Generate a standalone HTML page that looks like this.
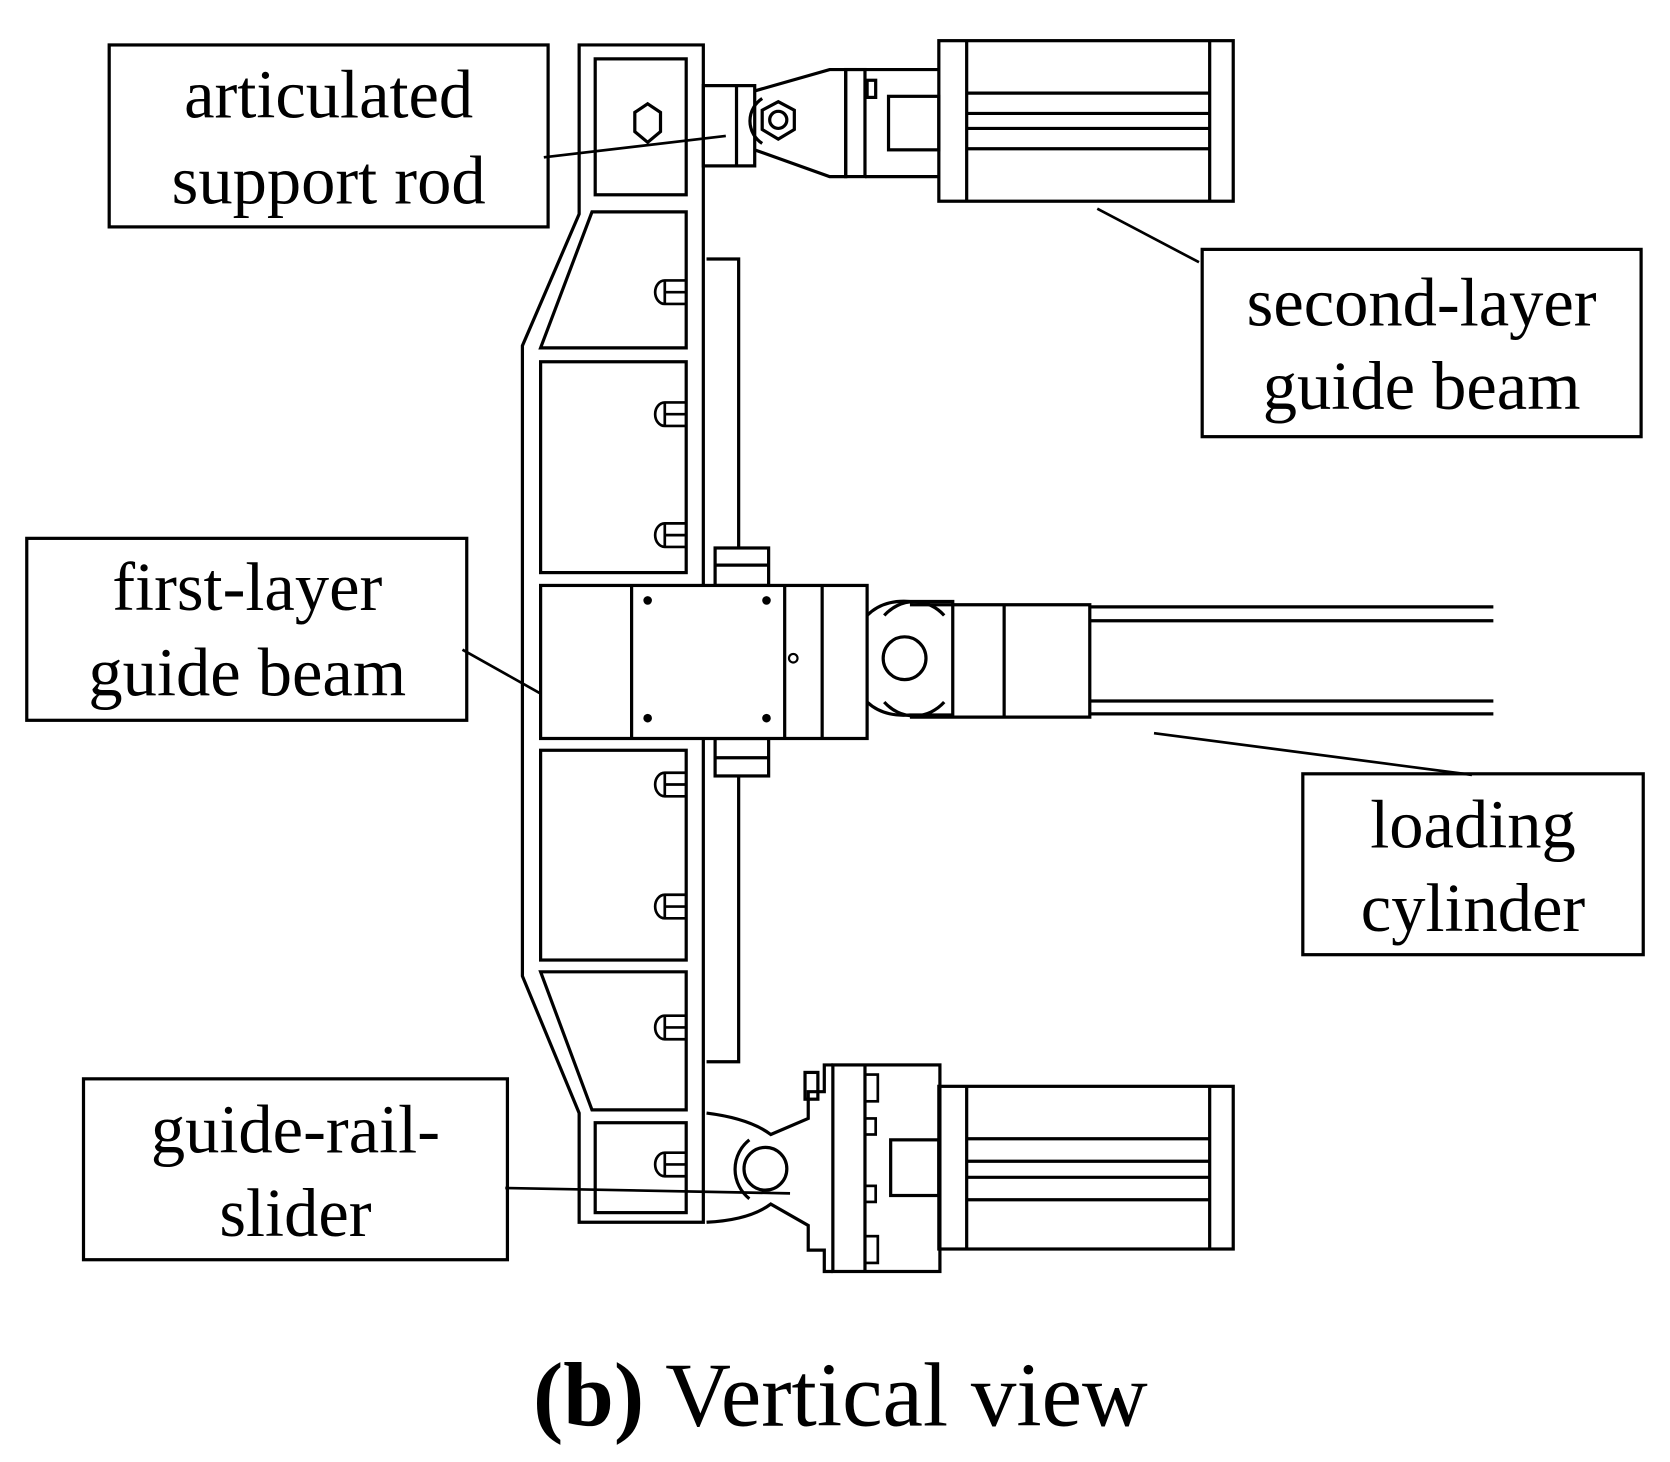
<!DOCTYPE html>
<html><head><style>html,body{margin:0;padding:0;background:#fff}svg{display:block}</style></head>
<body>
<svg width="1670" height="1462" viewBox="0 0 1560 1366" xmlns="http://www.w3.org/2000/svg" preserveAspectRatio="none">
<g fill="none" stroke="#000" stroke-width="3">
<!-- label boxes -->
<rect x="102" y="42" width="410" height="170"/>
<rect x="1123" y="233" width="410" height="175"/>
<rect x="25" y="503" width="411" height="170"/>
<rect x="1217" y="723" width="318" height="169"/>
<rect x="78" y="1008" width="396" height="169"/>
<!-- leaders -->
<g stroke-width="2.5">
<line x1="508" y1="147" x2="678" y2="127"/>
<line x1="1120" y1="245" x2="1025" y2="195"/>
<line x1="432" y1="607" x2="512" y2="652"/>
<line x1="1375" y1="724" x2="1078" y2="685"/>
</g>
<!-- frame outline -->
<path d="M541 42 H657 V1142 H541 V1040 L488 912 V323 L541 200 Z"/>
<rect x="556" y="55" width="85" height="127"/>
<path d="M605 97 l12 8 v18 l-12 10 l-12 -10 v-18 z"/>
<path d="M553 198 H641 V325 H505 Z"/>
<rect x="505" y="338" width="136" height="197"/>
<rect x="505" y="701" width="136" height="196"/>
<path d="M505 908 H641 V1037 H553 Z"/>
<rect x="556" y="1049" width="85" height="84"/>
<!-- bolts -->
<g stroke-width="2.5">
<path d="M641 262 h-20 a9 11 0 0 0 0 22 h20 M621 262 v22 M621 273 h20"/>
<path d="M641 376 h-20 a9 11 0 0 0 0 22 h20 M621 376 v22 M621 387 h20"/>
<path d="M641 489 h-20 a9 11 0 0 0 0 22 h20 M621 489 v22 M621 500 h20"/>
<path d="M641 722 h-20 a9 11 0 0 0 0 22 h20 M621 722 v22 M621 733 h20"/>
<path d="M641 836 h-20 a9 11 0 0 0 0 22 h20 M621 836 v22 M621 847 h20"/>
<path d="M641 949 h-20 a9 11 0 0 0 0 22 h20 M621 949 v22 M621 960 h20"/>
<path d="M641 1077 h-20 a9 11 0 0 0 0 22 h20 M621 1077 v22 M621 1088 h20"/>
</g>
<!-- rail -->
<path d="M660 242 H690 V992 H660"/>
<!-- slider blocks -->
<rect x="668" y="512" width="50" height="35" fill="#fff"/>
<rect x="668" y="690" width="50" height="35" fill="#fff"/>
<line x1="668" y1="528" x2="718" y2="528"/>
<line x1="668" y1="708" x2="718" y2="708"/>
<!-- first layer beam block -->
<rect x="505" y="547" width="305" height="143" fill="#fff"/>
<line x1="590" y1="547" x2="590" y2="690"/>
<line x1="733" y1="547" x2="733" y2="690"/>
<line x1="768" y1="547" x2="768" y2="690"/>
<g fill="#000" stroke="none">
<circle cx="605" cy="561" r="4"/><circle cx="716" cy="561" r="4"/>
<circle cx="605" cy="671" r="4"/><circle cx="716" cy="671" r="4"/>
</g>
<circle cx="741" cy="615" r="4" stroke-width="2"/>
<!-- loading cylinder -->
<path d="M810 575 Q825 560 850 562 H890 V668 H850 Q825 670 810 656"/>
<path d="M826 575 a40 45 0 0 1 56 0 M826 656 a40 45 0 0 0 56 0"/>
<circle cx="845" cy="615" r="20"/>
<path d="M850 565 H1018 V670 H850"/>
<line x1="938" y1="565" x2="938" y2="670"/>
<line x1="1018" y1="567" x2="1395" y2="567"/>
<line x1="1018" y1="580" x2="1395" y2="580"/>
<line x1="1018" y1="655" x2="1395" y2="655"/>
<line x1="1018" y1="667" x2="1395" y2="667"/>
<!-- top articulated rod + cylinder -->
<rect x="657" y="80" width="48" height="75"/>
<line x1="688" y1="80" x2="688" y2="155"/>
<path d="M705 85 L775 65 H790 V165 H775 L705 140"/>
<path d="M712 92 a25 25 0 0 0 0 42"/>
<path d="M727 95 l15 8 v18 l-15 9 l-15 -9 v-18 z"/>
<circle cx="727" cy="112" r="8"/>
<rect x="790" y="65" width="18" height="100"/>
<rect x="810" y="75" width="8" height="16"/>
<path d="M808 65 H877 M808 165 H877"/>
<rect x="830" y="90" width="47" height="50"/>
<rect x="877" y="38" width="275" height="150"/>
<line x1="903" y1="38" x2="903" y2="188"/>
<line x1="1130" y1="38" x2="1130" y2="188"/>
<line x1="903" y1="87" x2="1130" y2="87"/>
<line x1="903" y1="106" x2="1130" y2="106"/>
<line x1="903" y1="120" x2="1130" y2="120"/>
<line x1="903" y1="139" x2="1130" y2="139"/>
<!-- bottom clevis + cylinder -->
<path d="M660 1040 Q700 1045 720 1060 L755 1045 V1020 H770 V995 H778 M660 1142 Q700 1140 720 1125 L755 1145 V1168 H770 V1188 H778"/>
<path d="M700 1065 a35 35 0 0 0 0 55"/>
<circle cx="715" cy="1092" r="20"/>
<rect x="752" y="1002" width="12" height="25"/>
<rect x="778" y="995" width="100" height="193"/>
<line x1="808" y1="995" x2="808" y2="1188"/>
<g stroke-width="2.5">
<rect x="808" y="1004" width="12" height="25"/>
<rect x="808" y="1045" width="10" height="15"/>
<rect x="808" y="1108" width="10" height="15"/>
<rect x="808" y="1155" width="12" height="25"/>
</g>
<rect x="832" y="1065" width="45" height="52"/>
<rect x="877" y="1015" width="275" height="152"/>
<line x1="903" y1="1015" x2="903" y2="1167"/>
<line x1="1130" y1="1015" x2="1130" y2="1167"/>
<line x1="903" y1="1064" x2="1130" y2="1064"/>
<line x1="903" y1="1085" x2="1130" y2="1085"/>
<line x1="903" y1="1100" x2="1130" y2="1100"/>
<line x1="903" y1="1121" x2="1130" y2="1121"/>
<line x1="472" y1="1110" x2="738" y2="1115" stroke-width="2.5"/>
</g>
<g font-family="'Liberation Serif', serif" font-size="64" text-anchor="middle" fill="#000">
<text x="307" y="110">articulated</text>
<text x="307" y="190">support rod</text>
<text x="1328" y="304">second-layer</text>
<text x="1328" y="382">guide beam</text>
<text x="231" y="570">first-layer</text>
<text x="231" y="650">guide beam</text>
<text x="1376" y="792">loading</text>
<text x="1376" y="870">cylinder</text>
<text x="276" y="1077">guide-rail-</text>
<text x="276" y="1155">slider</text>
<text x="785" y="1332" font-size="85"><tspan font-weight="bold">(b)</tspan> Vertical view</text>
</g>
</svg>
</body></html>
